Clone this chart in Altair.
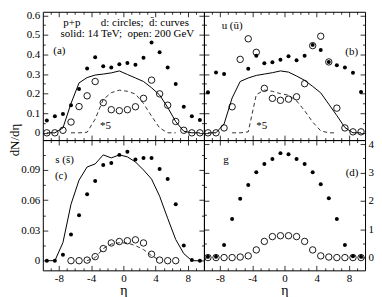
import json
import altair as alt
import pandas as pd

# ---------------- data ----------------
ETA = [-9.5, -8.5, -7.5, -6.5, -5.5, -4.5, -3.5, -2.5, -1.5, -0.5,
       0.5, 1.5, 2.5, 3.5, 4.5, 5.5, 6.5, 7.5, 8.5, 9.5]
ETA_MID = [-6.5, -5.5, -4.5, -3.5, -2.5, -1.5, -0.5, 0.5, 1.5, 2.5, 3.5, 4.5, 5.5, 6.5]
ETA_C_DASH = [-4.5, -3.5, -2.5, -1.5, -0.5, 0.5, 1.5, 2.5, 3.5, 4.5]

# (a) d quarks: circles, d-bar: curves
A_FILLED = [0.063, 0.085, 0.096, 0.141, 0.224, 0.328, 0.386, 0.340, 0.333, 0.350,
            0.357, 0.348, 0.383, 0.461, 0.411, 0.333, 0.249, 0.133, 0.085, 0.066]
A_OPEN = [0, 0, 0.013, 0.055, 0.134, 0.189, 0.262, 0.154, 0.118, 0.113,
          0.118, 0.133, 0.176, 0.269, 0.199, 0.141, 0.058, 0.013, 0, 0]
A_SOLID = [0, 0, 0.025, 0.150, 0.255, 0.282, 0.295, 0.300, 0.306, 0.316,
           0.298, 0.280, 0.262, 0.230, 0.193, 0.130, 0.057, 0.008, 0, 0]
A_DASH = [0, 0, 0.003, 0.070, 0.170, 0.205, 0.218, 0.212, 0.198, 0.150, 0.085, 0.025, 0, 0]

# (b) u (u-bar)
B_FILLED = [0.207, 0.308, 0.300, None, None, 0.327, 0.393, 0.355, 0.360, 0.373,
            0.391, 0.371, 0.393, 0.449, 0.423, 0.362, 0.345, 0.333, 0.307, 0.209]
B_OPEN = [0, 0, 0.025, 0.133, 0.375, 0.480, 0.411, 0.227, 0.176, 0.166,
          0.172, 0.184, 0.251, 0.445, 0.493, 0.362, 0.126, 0.025, 0.005, 0.005]
B_SOLID = [0, 0, 0.045, 0.178, 0.262, 0.280, 0.293, 0.300, 0.307, 0.316,
           0.310, 0.290, 0.268, 0.237, 0.204, 0.146, 0.088, 0.027, 0, 0]
B_DASH = [0, 0, 0.005, 0.195, 0.218, 0.212, 0.200, 0.192, 0.163, 0.113, 0.055, 0.010, 0, 0]

# (c) s (s-bar)
C_FILLED = [0, 0, 0.006, 0.026, 0.045, 0.066, 0.079, 0.095, 0.097, 0.105,
            0.108, 0.1005, 0.102, 0.102, 0.091, 0.081, 0.056, 0.015, 0.0006, 0]
C_OPEN = [0, 0, 0.0006, 0.004, 0.012, 0.0176, 0.019, 0.0198, 0.0207, 0.0176, 0.0064, 0.0006, 0, 0]
C_SOLID = [0, 0, 0.018, 0.056, 0.080, 0.093, 0.096, 0.105, 0.102, 0.105,
           0.103, 0.098, 0.090, 0.081, 0.064, 0.042, 0.021, 0.007, 0, 0]
C_DASH = [0, 0.003, 0.012, 0.0165, 0.0178, 0.0175, 0.015, 0.011, 0.005, 0.0005]

# (d) gluons
D_FILLED = [0.03, 0.03, 0.44, 1.36, 2.07, 2.56, 3.01, 3.30, 3.47, 3.68,
            3.64, 3.47, 3.30, 3.01, 2.58, 2.09, 1.36, 0.44, 0.05, 0.03]
D_OPEN = [0, 0, 0, 0, 0.02, 0.06, 0.27, 0.57, 0.74, 0.77,
          0.77, 0.74, 0.57, 0.27, 0.06, 0.02, 0, 0, 0, 0]

# axes
X_DOMAIN = [-10, 10]
X_LABELS = [-8, -4, 0, 4, 8]
X_TICKS = [-9, -8, -7, -6, -5, -4, -3, -2, -1, 0, 1, 2, 3, 4, 5, 6, 7, 8, 9]
Y_TOP_DOMAIN = [-0.037, 0.618]
Y_TOP_LABELS = [0, 0.1, 0.2, 0.3, 0.4, 0.5, 0.6]
Y_TOP_TICKS = [0, 0.05, 0.1, 0.15, 0.2, 0.25, 0.3, 0.35, 0.4, 0.45, 0.5, 0.55, 0.6]
Y_C_DOMAIN = [-0.0096, 0.1197]
Y_C_LABELS = [0, 0.03, 0.06, 0.09]
Y_C_TICKS = [0, 0.015, 0.03, 0.045, 0.06, 0.075, 0.09, 0.105]
Y_D_DOMAIN = [-0.45, 4.14]
Y_D_LABELS = [0, 1, 2, 3, 4]
Y_D_TICKS = [0, 0.5, 1, 1.5, 2, 2.5, 3, 3.5, 4]

NOTES_A = [("p+p", -7.45, 0.560),
           ("d: circles;\u00a0 d\u0304: curves", -2.8, 0.560),
           ("solid: 14 TeV;\u00a0 open: 200 GeV", -7.8, 0.505),
           ("(a)", -8.7, 0.417),
           ("*5", -2.9, 0.036)]
NOTES_B = [("u (u\u0304)", -7.8, 0.546), ("(b)", 7.55, 0.414), ("*5", -3.5, 0.036)]
NOTES_C = [("s (s\u0304)", -8.45, 0.0996), ("(c)", -8.5, 0.0836)]
NOTES_D = [("g", -7.6, 3.42), ("(d)", 7.6, 2.97)]

# ---------------- layout / style ----------------
FONT = "Liberation Serif"
W = 162
HT = 129
HB = 131


def xy(xs, ys):
    return pd.DataFrame({"eta": xs, "v": ys}).dropna()


def ex(axis=None):
    return alt.X("eta:Q", scale=alt.Scale(domain=X_DOMAIN, nice=False, zero=False), axis=axis)


def ey(dom, axis=None):
    return alt.Y("v:Q", scale=alt.Scale(domain=dom, nice=False, zero=False), axis=axis)


def major_test(vals):
    return "indexof(%s, datum.value) >= 0" % json.dumps(vals)


def tick_axis(orient, allv, major, offset):
    return alt.Axis(orient=orient, offset=offset, values=allv, labels=False, domain=False,
                    grid=False, title=None, ticks=True, tickColor="black", tickWidth=0.8,
                    tickSize={"condition": {"test": major_test(major), "value": 5}, "value": 2.5},
                    minExtent=0)


def label_axis(orient, vals, title=None):
    kw = dict(orient=orient, values=vals, ticks=False, tickSize=0, domain=False, grid=False,
              labelFont=FONT, labelFontSize=11, labelColor="black", labelPadding=3,
              labelExpr="'' + datum.value", minExtent=0, labelFlush=False, labelOverlap=False)
    if title:
        kw.update(title=title, titleFont=FONT, titleFontSize=14, titleFontWeight="normal",
                  titleColor="black", titlePadding=0, labelPadding=2)
    else:
        kw["title"] = None
    return alt.Axis(**kw)


def panel(H, ydom, ylabels, yticks, filled, opened, solid, dash, notes,
          ylab_orient=None, xlab=False, extra=None):
    dummy = pd.DataFrame({"eta": [0.0], "v": [0.0]})
    layers = []
    layers.append(alt.Chart(dummy).mark_point(opacity=0).encode(
        x=ex(tick_axis("top", X_TICKS, X_LABELS, -H)),
        y=ey(ydom, tick_axis("right", yticks, ylabels, -W))))
    layers.append(alt.Chart(dummy).mark_point(opacity=0).encode(
        x=ex(tick_axis("bottom", X_TICKS, X_LABELS, -H)),
        y=ey(ydom, tick_axis("left", yticks, ylabels, -W))))
    if xlab or ylab_orient:
        xa = label_axis("bottom", X_LABELS, "\u03b7") if xlab else None
        ya = label_axis(ylab_orient, ylabels) if ylab_orient else None
        layers.append(alt.Chart(dummy).mark_point(opacity=0).encode(x=ex(xa), y=ey(ydom, ya)))
    if solid is not None:
        layers.append(alt.Chart(xy(*solid)).mark_line(color="black", strokeWidth=1).encode(
            x=ex(), y=ey(ydom)))
    if dash is not None:
        layers.append(alt.Chart(xy(*dash)).mark_line(color="#333333", strokeWidth=1,
                                                     strokeDash=[4, 3]).encode(x=ex(), y=ey(ydom)))
    layers.append(alt.Chart(xy(*opened)).mark_point(shape="circle", filled=False, color="black",
                                                    size=42, strokeWidth=0.9, opacity=1).encode(
        x=ex(), y=ey(ydom)))
    layers.append(alt.Chart(xy(*filled)).mark_circle(color="black", size=16, opacity=1).encode(
        x=ex(), y=ey(ydom)))
    ndf = pd.DataFrame({"t": [n[0] for n in notes], "eta": [n[1] for n in notes],
                        "v": [n[2] for n in notes]})
    layers.append(alt.Chart(ndf).mark_text(align="left", baseline="middle", font=FONT,
                                           fontSize=11, color="black").encode(
        x=ex(), y=ey(ydom), text="t:N"))
    if extra is not None:
        layers.append(extra)
    return alt.layer(*layers).resolve_axis(x="independent", y="independent").properties(
        width=W, height=H)


ytitle = alt.Chart(pd.DataFrame({"t": ["dN/d\u03b7"]})).mark_text(
    angle=270, align="center", baseline="middle", font=FONT, fontSize=13, color="black").encode(
    x=alt.value(-28), y=alt.value(HT), text="t:N")

pa = panel(HT, Y_TOP_DOMAIN, Y_TOP_LABELS, Y_TOP_TICKS, (ETA, A_FILLED), (ETA, A_OPEN),
           (ETA, A_SOLID), (ETA_MID, A_DASH), NOTES_A, ylab_orient="left", extra=ytitle)
pb = panel(HT, Y_TOP_DOMAIN, Y_TOP_LABELS, Y_TOP_TICKS, (ETA, B_FILLED), (ETA, B_OPEN),
           (ETA, B_SOLID), (ETA_MID, B_DASH), NOTES_B)
pc = panel(HB, Y_C_DOMAIN, Y_C_LABELS, Y_C_TICKS, (ETA, C_FILLED), (ETA_MID, C_OPEN),
           (ETA, C_SOLID), (ETA_C_DASH, C_DASH), NOTES_C, ylab_orient="left", xlab=True)
pd_ = panel(HB, Y_D_DOMAIN, Y_D_LABELS, Y_D_TICKS, (ETA, D_FILLED), (ETA, D_OPEN),
            None, None, NOTES_D, ylab_orient="right", xlab=True)

chart = alt.concat(pa, pb, pc, pd_, columns=2, spacing=0, bounds="flush").configure_view(
    stroke="black", strokeWidth=1).properties(
    padding={"left": 0, "top": 0, "right": 0, "bottom": 0}, background="white")

chart.save("out.html", embed_options={"renderer": "svg", "actions": False})
